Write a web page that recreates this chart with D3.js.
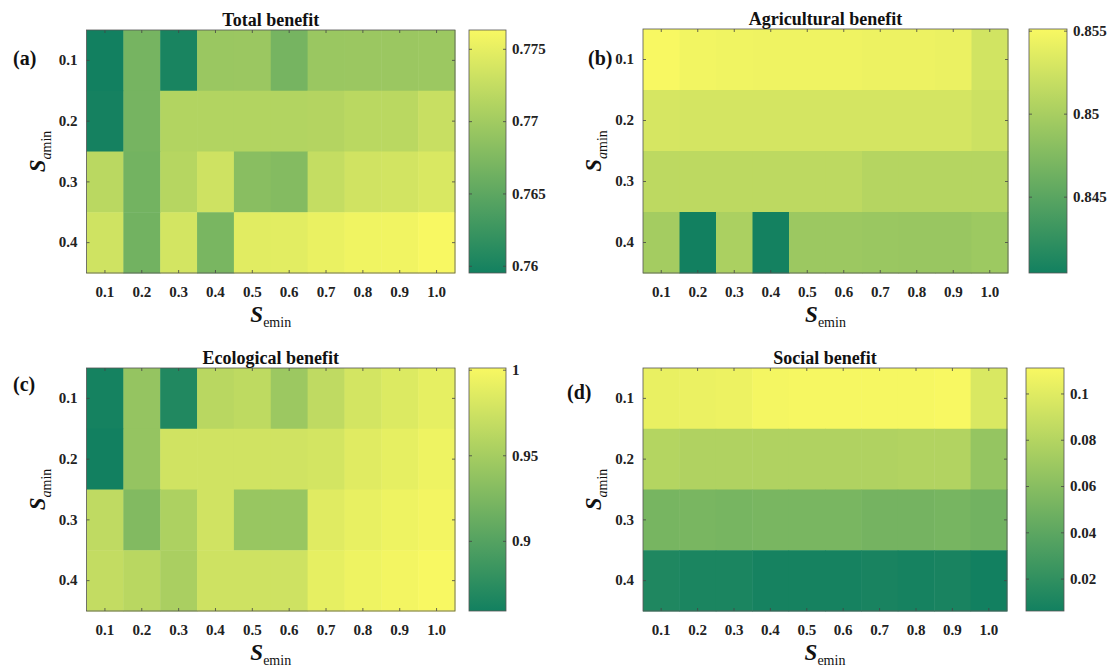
<!DOCTYPE html>
<html>
<head>
<meta charset="utf-8">
<script src="https://cdn.jsdelivr.net/npm/d3@7"></script>
<style>
  body { margin: 0; background: #fff; }
  text { font-family: "Liberation Serif", "Times New Roman", serif; }
</style>
</head>
<body>
<div id="chart"></div>
<script>
// categories
const seminLabels = ["0.1", "0.2", "0.3", "0.4", "0.5", "0.6", "0.7", "0.8", "0.9", "1.0"];
const saminLabels = ["0.1", "0.2", "0.3", "0.4"];

// rows = S_amin (0.1 .. 0.4), columns = S_emin (0.1 .. 1.0)
const totalBenefit = [
    [0.7595, 0.7668, 0.7600, 0.7694, 0.7695, 0.7668, 0.7694, 0.7695, 0.7695, 0.7696],
    [0.7597, 0.7668, 0.7712, 0.7712, 0.7712, 0.7712, 0.7713, 0.7718, 0.7718, 0.7728],
    [0.7718, 0.7666, 0.7715, 0.7732, 0.7682, 0.7678, 0.7725, 0.7734, 0.7735, 0.7740],
    [0.7733, 0.7665, 0.7736, 0.7670, 0.7746, 0.7747, 0.7753, 0.7757, 0.7758, 0.7763]
];
const agriBenefit = [
    [0.8551, 0.8547, 0.8546, 0.8545, 0.8545, 0.8545, 0.8544, 0.8544, 0.8543, 0.8526],
    [0.8529, 0.8528, 0.8528, 0.8528, 0.8528, 0.8528, 0.8528, 0.8528, 0.8528, 0.8523],
    [0.8513, 0.8513, 0.8513, 0.8513, 0.8513, 0.8513, 0.8508, 0.8508, 0.8508, 0.8508],
    [0.8497, 0.8404, 0.8502, 0.8405, 0.8492, 0.8492, 0.8491, 0.8490, 0.8490, 0.8493]
];
const ecoBenefit = [
    [0.861, 0.940, 0.868, 0.962, 0.965, 0.944, 0.966, 0.978, 0.984, 0.990],
    [0.859, 0.940, 0.976, 0.976, 0.976, 0.976, 0.978, 0.986, 0.990, 0.995],
    [0.966, 0.928, 0.955, 0.976, 0.942, 0.942, 0.986, 0.991, 0.995, 0.998],
    [0.968, 0.962, 0.953, 0.975, 0.975, 0.975, 0.990, 0.995, 0.998, 1.001]
];
const socialBenefit = [
    [0.104, 0.105, 0.106, 0.109, 0.110, 0.110, 0.110, 0.110, 0.111, 0.097],
    [0.080, 0.078, 0.078, 0.078, 0.078, 0.078, 0.078, 0.079, 0.079, 0.066],
    [0.052, 0.053, 0.052, 0.053, 0.053, 0.053, 0.051, 0.051, 0.052, 0.050],
    [0.012, 0.010, 0.010, 0.008, 0.008, 0.008, 0.009, 0.008, 0.009, 0.006]
];

// colorbar tick labels
const totalTicks = [0.76, 0.765, 0.77, 0.775];
const agriTicks = [0.845, 0.85, 0.855];
const ecoTicks = [0.9, 0.95, 1];
const socialTicks = [0.02, 0.04, 0.06, 0.08, 0.1];

const width = 1113, height = 670;

// summer-like colormap (green -> yellow)
const cmap = d3.interpolateRgb("#128060", "#f8f862");

const svg = d3.select("#chart")
    .append("svg")
    .attr("width", width)
    .attr("height", height);

const defs = svg.append("defs");

const panels = [
    { key: "a", title: "Total benefit", values: totalBenefit, ticks: totalTicks,
      left: 86.5, right: 455, top: 30, bottom: 273, cbLeft: 469, cbRight: 506, letterX: 13, letterY: 65 },
    { key: "b", title: "Agricultural benefit", values: agriBenefit, ticks: agriTicks,
      left: 643, right: 1008, top: 29, bottom: 273, cbLeft: 1029, cbRight: 1067, letterX: 588, letterY: 65 },
    { key: "c", title: "Ecological benefit", values: ecoBenefit, ticks: ecoTicks,
      left: 86.5, right: 455, top: 368, bottom: 611, cbLeft: 469, cbRight: 506, letterX: 13, letterY: 391 },
    { key: "d", title: "Social benefit", values: socialBenefit, ticks: socialTicks,
      left: 643, right: 1007, top: 368, bottom: 611, cbLeft: 1026, cbRight: 1064, letterX: 567, letterY: 399 }
];

panels.forEach(drawPanel);

function drawPanel(p) {
    const g = svg.append("g");

    const x = d3.scaleBand().domain(seminLabels).range([p.left, p.right]);
    const y = d3.scaleBand().domain(saminLabels).range([p.top, p.bottom]);

    const extent = d3.extent(p.values.flat());
    const color = d3.scaleSequential(cmap).domain(extent);

    // cells
    const cells = [];
    p.values.forEach((row, i) => row.forEach((v, j) => cells.push({ r: saminLabels[i], c: seminLabels[j], v })));

    g.selectAll("rect.cell")
        .data(cells)
        .enter().append("rect")
        .attr("class", "cell")
        .attr("x", d => x(d.c))
        .attr("y", d => y(d.r))
        .attr("width", x.bandwidth() + 0.5)
        .attr("height", y.bandwidth() + 0.5)
        .attr("fill", d => color(d.v));

    // axes (ticks pointing inward like MATLAB)
    const xAxis = g.append("g")
        .attr("transform", `translate(0,${p.bottom})`)
        .call(d3.axisBottom(x).tickSizeInner(-3).tickSizeOuter(0).tickPadding(13));
    const yAxis = g.append("g")
        .attr("transform", `translate(${p.left},0)`)
        .call(d3.axisLeft(y).tickSizeInner(-3).tickSizeOuter(0).tickPadding(9));
    g.append("g")
        .attr("transform", `translate(0,${p.top})`)
        .call(d3.axisTop(x).tickSizeInner(-3).tickSizeOuter(0).tickFormat(""));
    g.append("g")
        .attr("transform", `translate(${p.right},0)`)
        .call(d3.axisRight(y).tickSizeInner(-3).tickSizeOuter(0).tickFormat(""));

    g.selectAll(".domain").remove();
    [xAxis, yAxis].forEach(a => a.selectAll("text")
        .style("font-family", "Liberation Serif")
        .style("font-size", "15px")
        .style("font-weight", "bold")
        .attr("fill", "#222"));

    // box
    g.append("rect")
        .attr("x", p.left).attr("y", p.top)
        .attr("width", p.right - p.left).attr("height", p.bottom - p.top)
        .attr("fill", "none").attr("stroke", "#555").attr("stroke-width", 0.8);

    // title
    g.append("text")
        .attr("x", (p.left + p.right) / 2)
        .attr("y", p.top - 4)
        .attr("text-anchor", "middle")
        .style("font-size", "18px")
        .style("font-weight", "bold")
        .attr("fill", "#111")
        .text(p.title);

    // panel letter
    g.append("text")
        .attr("x", p.letterX)
        .attr("y", p.letterY)
        .style("font-size", "20px")
        .style("font-weight", "bold")
        .attr("fill", "#111")
        .text(`(${p.key})`);

    // x label S_emin
    const xl = g.append("text")
        .attr("x", (p.left + p.right) / 2)
        .attr("y", p.bottom + 49)
        .attr("text-anchor", "middle")
        .attr("fill", "#111");
    xl.append("tspan")
        .style("font-size", "23px").style("font-weight", "bold").style("font-style", "italic")
        .text("S");
    xl.append("tspan")
        .attr("dy", 5)
        .style("font-size", "14px")
        .text("emin");

    // y label S_amin
    const yl = g.append("text")
        .attr("transform", `translate(${p.left - 42},${(p.top + p.bottom) / 2}) rotate(-90)`)
        .attr("text-anchor", "middle")
        .attr("fill", "#111");
    yl.append("tspan")
        .style("font-size", "23px").style("font-weight", "bold").style("font-style", "italic")
        .text("S");
    yl.append("tspan")
        .attr("dy", 6)
        .style("font-size", "14px").style("font-style", "italic")
        .text("a");
    yl.append("tspan")
        .style("font-size", "14px")
        .text("min");

    // colorbar
    const gradId = `grad-${p.key}`;
    const grad = defs.append("linearGradient")
        .attr("id", gradId)
        .attr("x1", 0).attr("y1", 1).attr("x2", 0).attr("y2", 0);
    d3.range(0, 1.0001, 0.05).forEach(t => {
        grad.append("stop").attr("offset", t).attr("stop-color", cmap(t));
    });

    const cb = d3.scaleLinear().domain(extent).range([p.bottom, p.top]);

    g.append("rect")
        .attr("x", p.cbLeft).attr("y", p.top)
        .attr("width", p.cbRight - p.cbLeft).attr("height", p.bottom - p.top)
        .attr("fill", `url(#${gradId})`)
        .attr("stroke", "#555").attr("stroke-width", 0.8);

    const cbAxis = g.append("g")
        .attr("transform", `translate(${p.cbRight},0)`)
        .call(d3.axisRight(cb).tickValues(p.ticks).tickFormat(d => String(d))
            .tickSizeInner(-3).tickSizeOuter(0).tickPadding(6));
    g.append("g")
        .attr("transform", `translate(${p.cbLeft},0)`)
        .call(d3.axisLeft(cb).tickValues(p.ticks).tickFormat("")
            .tickSizeInner(-3).tickSizeOuter(0));
    g.selectAll(".domain").remove();
    g.selectAll(".tick line").attr("stroke", "#444").attr("stroke-width", 0.8);
    cbAxis.selectAll("text")
        .style("font-family", "Liberation Serif")
        .style("font-size", "15px")
        .style("font-weight", "bold")
        .attr("fill", "#222");
}
</script>
</body>
</html>
